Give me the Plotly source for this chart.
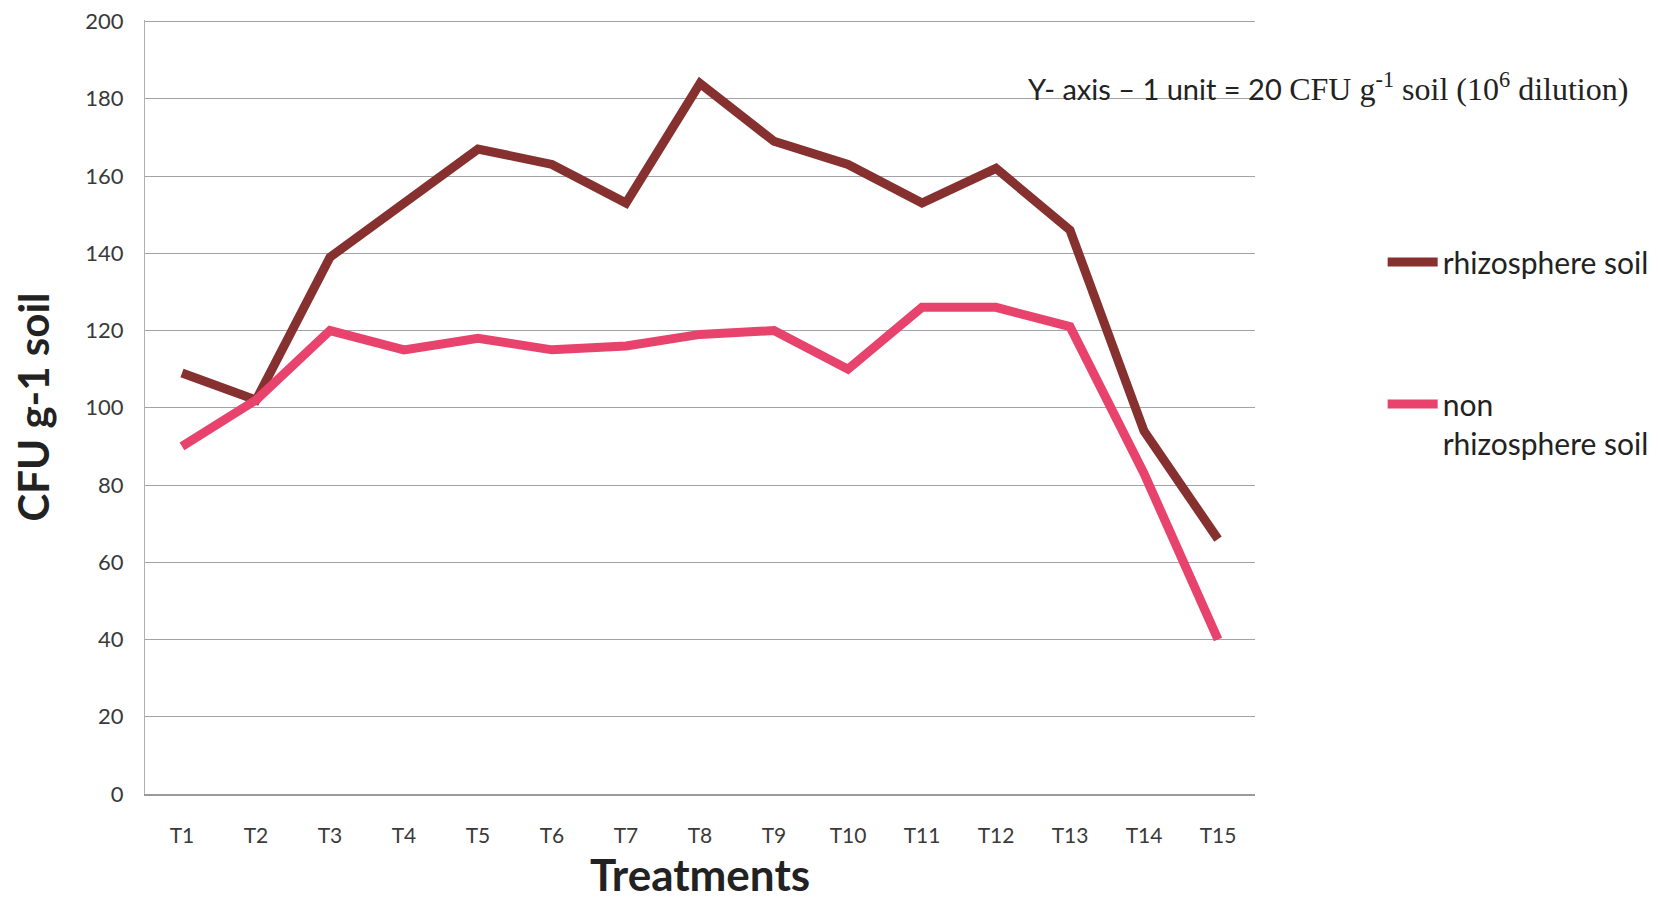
import plotly.graph_objects as go

treatments = ["T1", "T2", "T3", "T4", "T5", "T6", "T7", "T8", "T9", "T10",
              "T11", "T12", "T13", "T14", "T15"]
rhizosphere = [109, 102, 139, 153, 167, 163, 153, 184, 169, 163, 153, 162, 146, 94, 66]
non_rhizosphere = [90, 102, 120, 115, 118, 115, 116, 119, 120, 110, 126, 126, 121, 83, 40]

y_ticks = [0, 20, 40, 60, 80, 100, 120, 140, 160, 180, 200]

SANS = "Lato, 'Open Sans', sans-serif"

fig = go.Figure()
fig.add_trace(go.Scatter(
    x=treatments, y=rhizosphere, mode="lines", name="rhizosphere soil",
    legendgroup="rhizo", line=dict(color="#86302f", width=9),
))
fig.add_trace(go.Scatter(
    x=treatments, y=non_rhizosphere, mode="lines", name="non<br>rhizosphere soil",
    legendgroup="non", line=dict(color="#e8436c", width=9),
))

fig.update_layout(
    width=1659, height=900,
    margin=dict(l=145, r=404, t=20, b=106, autoexpand=False),
    paper_bgcolor="white", plot_bgcolor="white",
    font=dict(family=SANS, color="#222"),
    showlegend=True,
    legend=dict(
        x=1.115, y=0.721, xanchor="left", yanchor="top", valign="top",
        font=dict(size=30, color="#222", family=SANS),
        tracegroupgap=100, itemwidth=50, bgcolor="rgba(0,0,0,0)",
    ),
    xaxis=dict(
        type="category", categoryorder="array", categoryarray=treatments,
        range=[-0.5, 14.5], showgrid=False, zeroline=False, automargin=False,
        showline=True, linecolor="#9a9a9a", linewidth=1.5,
        ticks="", tickfont=dict(size=21, color="#3a3a3a"), ticklabelstandoff=22,
        title=dict(text="<b>Treatments</b>", font=dict(size=44, color="#222"),
                   standoff=14),
    ),
    yaxis=dict(
        range=[0, 200.4], tickvals=y_ticks, showgrid=True, automargin=False,
        gridcolor="#a2a2a8", gridwidth=1.3, zeroline=False,
        showline=True, linecolor="#b0b0b0", linewidth=1,
        ticks="", tickfont=dict(size=22, color="#3a3a3a"), ticklabelstandoff=16,
        title=dict(text="<b>CFU g-1 soil</b>", font=dict(size=42, color="#222"),
                   standoff=22),
    ),
)

fig.add_annotation(
    xref="paper", yref="y", x=0.794, y=183, xanchor="left", yanchor="middle",
    showarrow=False,
    text=("<span style='font-family:Lato;font-size:29px'>Y- axis – 1 unit = 20</span> "
          "<span style='font-family:Liberation Serif;font-size:32px'>CFU g<sup>-1</sup> soil "
          "(10<sup>6</sup> dilution)</span>"),
    font=dict(size=29, color="#222", family=SANS),
)

fig.write_html("out.html")
